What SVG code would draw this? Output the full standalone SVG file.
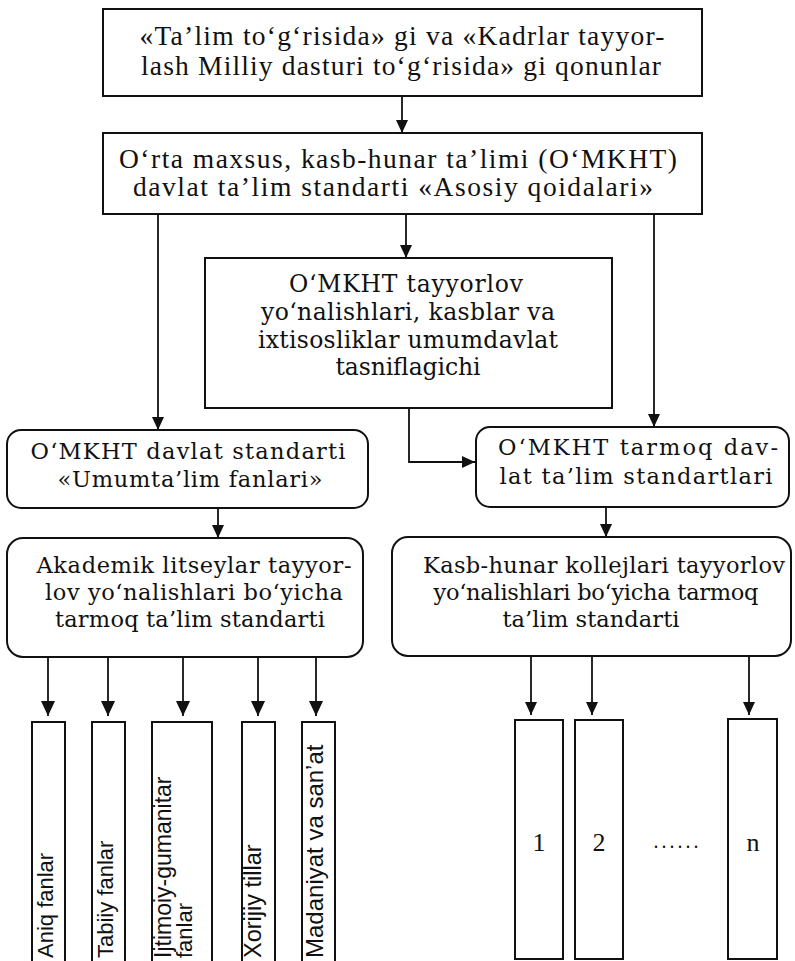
<svg xmlns="http://www.w3.org/2000/svg" width="795" height="961" viewBox="0 0 795 961">
<defs>
<style>
.box{fill:#fff;stroke:#111;stroke-width:2}
.conn{fill:none;stroke:#111;stroke-width:1.8}
.t1{font-family:"Liberation Serif","Times New Roman",serif;font-size:27.5px;fill:#111;text-anchor:middle}
.t2{font-family:"DejaVu Serif","Liberation Serif",serif;font-size:22.5px;fill:#111;text-anchor:middle}
.t3{font-family:"DejaVu Serif","Liberation Serif",serif;font-size:23.5px;fill:#111;text-anchor:middle}
.tv{font-family:"Liberation Sans",Arial,sans-serif;font-size:22px;fill:#111}
.tn{font-family:"Liberation Serif","Times New Roman",serif;font-size:26px;fill:#111;text-anchor:middle}
</style>
<marker id="ah" markerUnits="userSpaceOnUse" markerWidth="15" markerHeight="14" refX="15" refY="7" orient="auto">
<path d="M0,0 L15,7 L0,14 z" fill="#111"/>
</marker>
<marker id="ahs" markerUnits="userSpaceOnUse" markerWidth="13" markerHeight="12" refX="13" refY="6" orient="auto">
<path d="M0,0 L13,6 L0,12 z" fill="#111"/>
</marker>
</defs>
<rect width="795" height="961" fill="#fff"/>

<g id="connectors">
<line class="conn" x1="402" y1="96" x2="402" y2="133" marker-end="url(#ahs)"/>
<line class="conn" x1="406" y1="214" x2="406" y2="258" marker-end="url(#ahs)"/>
<line class="conn" x1="158" y1="214" x2="158" y2="430" marker-end="url(#ahs)"/>
<line class="conn" x1="654" y1="214" x2="654" y2="427" marker-end="url(#ahs)"/>
<path class="conn" d="M409,408 V462 H475" marker-end="url(#ahs)"/>
<line class="conn" x1="218" y1="508" x2="218" y2="538" marker-end="url(#ahs)"/>
<line class="conn" x1="606" y1="507" x2="606" y2="537" marker-end="url(#ahs)"/>
<line class="conn" x1="48" y1="657" x2="48" y2="716" marker-end="url(#ah)"/>
<line class="conn" x1="108" y1="657" x2="108" y2="716" marker-end="url(#ah)"/>
<line class="conn" x1="183" y1="657" x2="183" y2="716" marker-end="url(#ah)"/>
<line class="conn" x1="258" y1="657" x2="258" y2="716" marker-end="url(#ah)"/>
<line class="conn" x1="316" y1="657" x2="316" y2="716" marker-end="url(#ah)"/>
<line class="conn" x1="531" y1="656" x2="531" y2="715" marker-end="url(#ahs)"/>
<line class="conn" x1="592" y1="656" x2="592" y2="715" marker-end="url(#ahs)"/>
<line class="conn" x1="749" y1="656" x2="749" y2="715" marker-end="url(#ahs)"/>
</g>

<g id="n1">
<rect class="box" x="103" y="9" width="599" height="87"/>
<text class="t1" x="402" y="45" textLength="525">«Ta’lim to‘g‘risida» gi va «Kadrlar tayyor-</text>
<text class="t1" x="401" y="75" textLength="520">lash Milliy dasturi to‘g‘risida» gi qonunlar</text>
</g>

<g id="n2">
<rect class="box" x="103" y="133" width="599" height="81"/>
<text class="t1" x="398" y="168" textLength="558">O‘rta maxsus, kasb-hunar ta’limi (O‘MKHT)</text>
<text class="t1" x="393" y="196" textLength="520">davlat ta’lim standarti «Asosiy qoidalari»</text>
</g>

<g id="n3">
<rect class="box" x="205" y="258" width="407" height="150"/>
<text class="t3" x="406" y="292" textLength="234">O‘MKHT tayyorlov</text>
<text class="t3" x="408" y="320" textLength="294">yo‘nalishlari, kasblar va</text>
<text class="t3" x="408" y="348" textLength="300">ixtisosliklar umumdavlat</text>
<text class="t3" x="408" y="375" textLength="145">tasniflagichi</text>
</g>

<g id="n4">
<rect class="box" x="7" y="430" width="361" height="78" rx="14"/>
<text class="t2" x="188" y="459" textLength="315">O‘MKHT davlat standarti</text>
<text class="t2" x="190" y="487" textLength="265">«Umumta’lim fanlari»</text>
</g>

<g id="n5">
<rect class="box" x="476" y="427" width="313" height="80" rx="14"/>
<text class="t2" x="638" y="455" textLength="280">O‘MKHT tarmoq dav-</text>
<text class="t2" x="636" y="484" textLength="273">lat ta’lim  standartlari</text>
</g>

<g id="n6">
<rect class="box" x="7" y="538" width="356" height="119" rx="16"/>
<text class="t2" x="194" y="573" textLength="315">Akademik litseylar tayyor-</text>
<text class="t2" x="194" y="600" textLength="298">lov yo‘nalishlari bo‘yicha</text>
<text class="t2" x="190" y="627" textLength="270">tarmoq ta’lim standarti</text>
</g>

<g id="n7">
<rect class="box" x="392" y="537" width="399" height="119" rx="16"/>
<text class="t2" x="604" y="573" textLength="362">Kasb-hunar kollejlari tayyorlov</text>
<text class="t2" x="596" y="600" textLength="325">yo‘nalishlari bo‘yicha tarmoq</text>
<text class="t2" x="591" y="627" textLength="177">ta’lim standarti</text>
</g>

<g id="v1">
<rect class="box" x="32" y="722" width="33" height="245"/>
<text class="tv" transform="translate(53,958) rotate(-90)">Aniq fanlar</text>
</g>
<g id="v2">
<rect class="box" x="92" y="722" width="33" height="245"/>
<text class="tv" transform="translate(113,958) rotate(-90)">Tabiiy fanlar</text>
</g>
<g id="v3">
<rect class="box" x="152" y="722" width="60" height="245"/>
<text class="tv" style="font-size:23px" transform="translate(171,958) rotate(-90)">Ijtimoiy-gumanitar</text>
<text class="tv" transform="translate(192,958) rotate(-90)">fanlar</text>
</g>
<g id="v4">
<rect class="box" x="242" y="722" width="33" height="245"/>
<text class="tv" style="font-size:23.5px" transform="translate(261,958) rotate(-90)">Xorijiy tillar</text>
</g>
<g id="v5">
<rect class="box" x="302" y="722" width="33" height="245"/>
<text class="tv" style="font-size:24px" transform="translate(323,958) rotate(-90)">Madaniyat va san’at</text>
</g>

<g id="r1">
<rect class="box" x="515" y="720" width="48" height="239"/>
<text class="tn" x="539" y="851">1</text>
</g>
<g id="r2">
<rect class="box" x="575" y="720" width="48" height="239"/>
<text class="tn" x="599" y="851">2</text>
</g>
<g id="rdots">
<text class="tn" x="676" y="848" style="font-size:20px" textLength="45">......</text>
</g>
<g id="rn">
<rect class="box" x="728" y="719" width="49" height="240"/>
<text class="tn" x="753" y="851">n</text>
</g>
</svg>
